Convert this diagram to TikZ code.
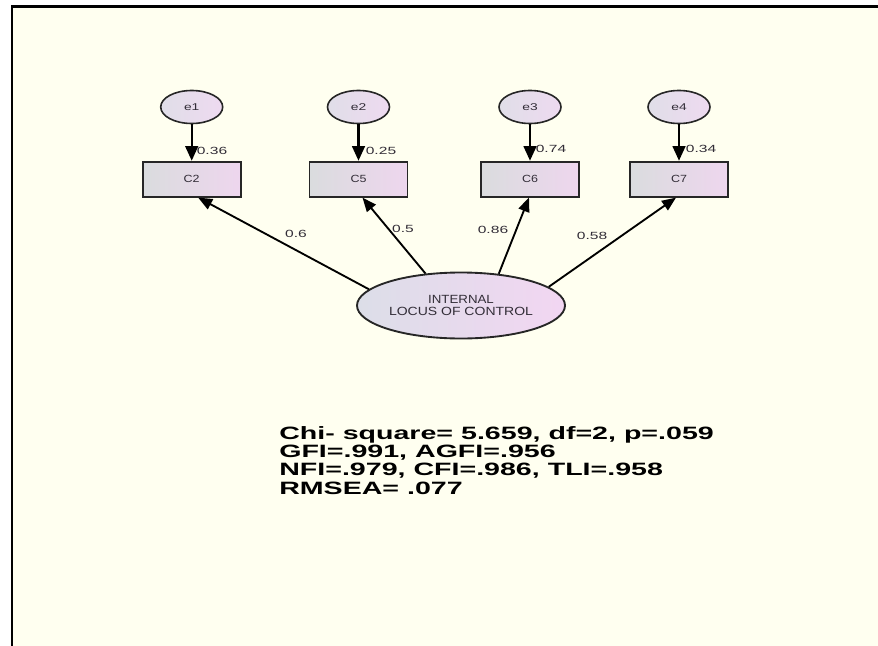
\documentclass[tikz,border=0pt]{standalone}
\usepackage{fontspec}
\setmainfont{Liberation Sans}
\usetikzlibrary{shapes.geometric,arrows.meta,calc}
\definecolor{bgcream}{RGB}{255,255,240}
\definecolor{boxL}{RGB}{218,220,222}
\definecolor{boxR}{RGB}{238,214,238}
\definecolor{eL}{RGB}{224,222,232}
\definecolor{eR}{RGB}{238,218,240}
\definecolor{latL}{RGB}{220,222,232}
\definecolor{latR}{RGB}{242,214,242}
\definecolor{txt}{RGB}{50,45,55}
\newcommand{\sx}[2]{\scalebox{#1}[1]{#2}}
\begin{document}
\begin{tikzpicture}[x=0.75pt,y=-0.75pt,
  obsbox/.style={draw=black!85, line width=1.4pt, left color=boxL, right color=boxR,
    minimum width=73.5pt, minimum height=26.25pt, inner sep=0,
    font=\fontsize{7.8}{8}\selectfont, text=txt},
  errell/.style={ellipse, draw=black!85, line width=1.2pt, left color=eL, right color=eR,
    minimum width=46.5pt, minimum height=24.75pt, inner sep=0,
    font=\fontsize{7.4}{8}\selectfont, text=txt},
  latell/.style={ellipse, draw=black!85, line width=1.4pt, left color=latL, right color=latR,
    minimum width=156pt, minimum height=49.5pt, inner sep=0, align=center,
    font=\fontsize{8.9}{9}\selectfont, text=txt},
  lbl/.style={font=\fontsize{7.8}{8}\selectfont, text=txt, inner sep=0},
  errarrow/.style={line width=1.8pt, -{Triangle[length=11pt,width=9.5pt]}},
  loadarrow/.style={line width=1.4pt, -{Triangle[length=10.5pt,width=8.5pt]}},
]
\useasboundingbox (0,0) rectangle (878,646);
\fill[white] (0,0) rectangle (878,646);
\fill[bgcream] (12,6.4) rectangle (878,646);
\draw[line width=2.2pt] (12,646) -- (12,6.4) -- (878,6.4);

% observed variables
\node[obsbox] (C2) at (191.7,179.2) {\sx{1.2}{C2}};
\node[obsbox] (C5) at (358.5,179.2) {\sx{1.2}{C5}};
\node[obsbox] (C6) at (530,179.2) {\sx{1.2}{C6}};
\node[obsbox] (C7) at (679,179.2) {\sx{1.2}{C7}};

% error terms
\node[errell] (e1) at (191.7,107) {\sx{1.4}{e1}};
\node[errell] (e2) at (358.5,107) {\sx{1.4}{e2}};
\node[errell] (e3) at (530,107) {\sx{1.4}{e3}};
\node[errell] (e4) at (679,107) {\sx{1.4}{e4}};

% latent variable
\node[latell] (L) at (461,305.5) {\sx{1.12}{INTERNAL}\\\sx{1.18}{LOCUS OF CONTROL}};

% labels
\node[lbl] (l1) at (212,151) {\sx{1.5}{0.36}};
\node[lbl] (l2) at (381,151) {\sx{1.5}{0.25}};
\node[lbl] (l3) at (551,149) {\sx{1.5}{0.74}};
\node[lbl] (l4) at (701,149) {\sx{1.5}{0.34}};
\node[lbl] (k1) at (296,234) {\sx{1.5}{0.6}};
\node[lbl] (k2) at (403,229) {\sx{1.5}{0.5}};
\node[lbl] (k3) at (493,230) {\sx{1.5}{0.86}};
\node[lbl] (k4) at (592,236) {\sx{1.5}{0.58}};

% arrows
\draw[errarrow] (e1.south) -- (C2.north);
\draw[errarrow] (e2.south) -- (C5.north);
\draw[errarrow] (e3.south) -- (C6.north);
\draw[errarrow] (e4.south) -- (C7.north);

\draw[loadarrow] (L.170) -- ($(C2.south)+(6.5,0)$);
\draw[loadarrow] (L.138) -- ($(C5.south)+(4,0)$);
\draw[loadarrow] (L.40) -- ($(C6.south)+(-1,0)$);
\draw[loadarrow] (L.12) -- ($(C7.south)+(-3,0)$);

% fit statistics
\node[anchor=north west, inner sep=0, font=\bfseries\fontsize{13.4}{13.75}\selectfont] (stats) at (279,426)
  {\scalebox{1.6}[1]{\begin{tabular}{@{}l@{}}
  Chi- square= 5.659, df=2, p=.059\\
  GFI=.991, AGFI=.956\\
  NFI=.979, CFI=.986, TLI=.958\\
  RMSEA= .077
  \end{tabular}}};
\end{tikzpicture}
\end{document}
